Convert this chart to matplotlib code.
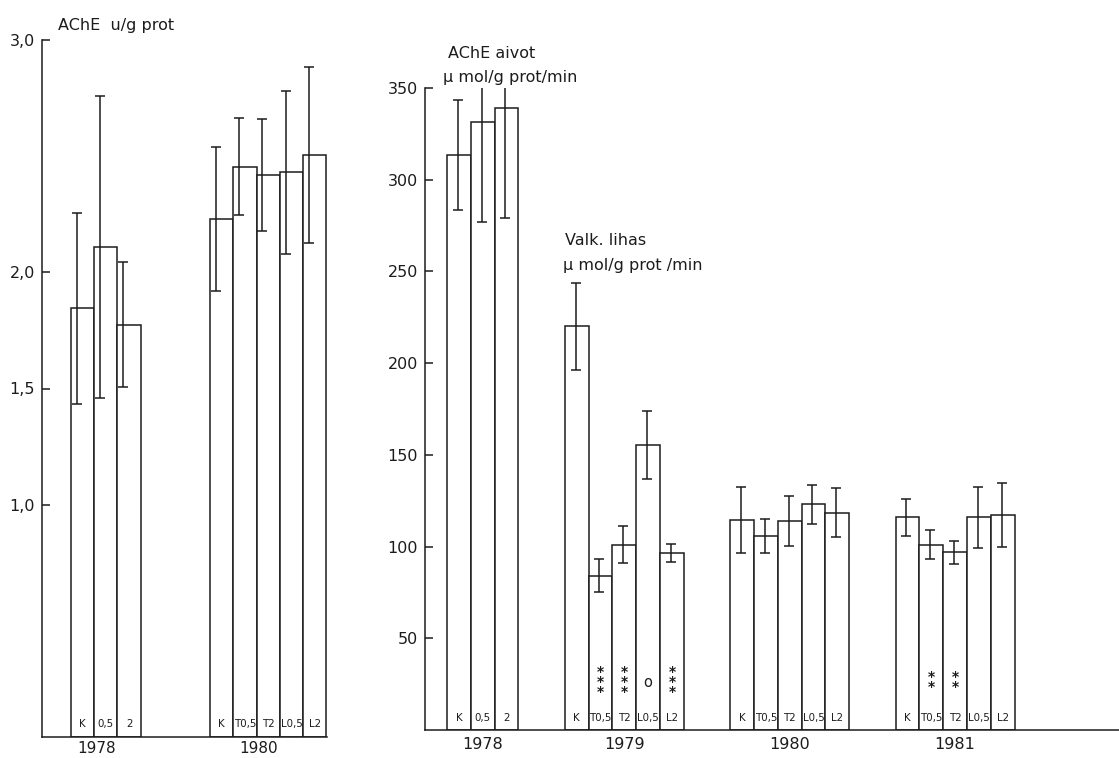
import numpy as np
import matplotlib.pyplot as plt

# AChE activity, left panel (u/g prot)
left_years = ["1978", "1980"]
left_labels = [["K", "0,5", "2"], ["K", "T0,5", "T2", "L0,5", "L2"]]
left_means = [[1.845, 2.11, 1.775], [2.23, 2.455, 2.42, 2.43, 2.505]]
left_errs = [[0.41, 0.65, 0.27], [0.31, 0.21, 0.24, 0.35, 0.38]]

# AChE brain (1978) and white muscle (1979-1981), umol/g prot/min
right_years = ["1978", "1979", "1980", "1981"]
right_labels = [["K", "0,5", "2"],
                ["K", "T0,5", "T2", "L0,5", "L2"],
                ["K", "T0,5", "T2", "L0,5", "L2"],
                ["K", "T0,5", "T2", "L0,5", "L2"]]
right_means = [[313.5, 331.5, 339],
               [220, 84, 101, 155.5, 96.5],
               [114.5, 106, 114, 123, 118.5],
               [116, 101, 97, 116, 117]]
right_errs = [[30, 54.5, 60],
              [23.5, 9, 10, 18.5, 5],
              [18, 9.3, 13.6, 10.6, 13.5],
              [10, 8, 6.3, 16.6, 17.4]]
right_sig = [["", "", ""],
             ["", "*\n*\n*", "*\n*\n*", "o", "*\n*\n*"],
             ["", "", "", "", ""],
             ["", "*\n*", "*\n*", "", ""]]

ink = "#1c1c1c"
lw = 1.1
plt.rcParams["font.family"] = "DejaVu Sans"

fig = plt.figure(figsize=(11.19, 7.58), dpi=100)
W, H = 1119, 758


def px_axes(x0, x1, y0, y1):
    return fig.add_axes([x0 / W, (H - y1) / H, (x1 - x0) / W, (y1 - y0) / H])


def style(ax, xpad):
    for s in ["top", "right"]:
        ax.spines[s].set_visible(False)
    for s in ["left", "bottom"]:
        ax.spines[s].set_color(ink)
        ax.spines[s].set_linewidth(lw)
    ax.tick_params(axis="y", direction="in", length=6, width=lw, color=ink,
                   pad=5, labelsize=11.5, labelcolor=ink)
    ax.tick_params(axis="x", length=0, pad=xpad, labelsize=11.5, labelcolor=ink)


def draw_groups(ax, starts, labels, means, errs, err_shift, label_y, sig=None, sig_y=0):
    centers = []
    for g, x0 in enumerate(starts):
        xs = x0 + np.arange(len(means[g])) + 0.5
        ax.bar(xs, means[g], width=1.0, facecolor="white", edgecolor=ink, linewidth=lw)
        ax.errorbar(xs + err_shift, means[g], yerr=errs[g], fmt="none", ecolor=ink,
                    elinewidth=lw, capsize=3.6, capthick=lw)
        for i, x in enumerate(xs):
            ax.text(x, label_y, labels[g][i], ha="center", va="center",
                    fontsize=7.4, color=ink)
            if sig is not None and sig[g][i]:
                star = "*" in sig[g][i]
                ax.text(x, sig_y, sig[g][i], ha="center", va="center",
                        fontsize=10 if star else 10.5,
                        fontweight="bold" if star else "normal",
                        linespacing=0.62, color=ink)
        centers.append(xs.mean())
    return centers


# left panel
axl = px_axes(42, 327, 40, 737)
style(axl, 3)
left_starts = [1.24, 1.24 + 3 + 2.97]
c = draw_groups(axl, left_starts, left_labels, left_means, left_errs, -0.25, 0.055)
axl.set_xlim(0, 285 / 23.3)
axl.set_ylim(0, 3.0)
axl.set_yticks([1.0, 1.5, 2.0, 3.0])
axl.set_yticklabels(["1,0", "1,5", "2,0", "3,0"])
axl.set_xticks([x - 0.4 for x in c])
axl.set_xticklabels(left_years, fontsize=11)
axl.text(0.69, 3.045, "AChE  u/g prot", fontsize=11.5, color=ink, clip_on=False)

# right panel
axr = px_axes(425, 1119, 88, 730)
style(axr, 5)
gap = 1.95
right_starts = [0.924]
for g in range(1, len(right_means)):
    right_starts.append(right_starts[-1] + len(right_means[g - 1]) + gap)
c = draw_groups(axr, right_starts, right_labels, right_means, right_errs, -0.05, 6.5,
                sig=right_sig, sig_y=26)
axr.set_xlim(0, 694 / 23.8)
axr.set_ylim(0, 350)
axr.set_yticks(np.arange(50, 351, 50))
axr.set_xticks(c)
axr.set_xticklabels(right_years)
axr.text(0.97, 366.5, "AChE aivot", fontsize=11.5, color=ink, clip_on=False)
axr.text(0.76, 353.5, "μ mol/g prot/min", fontsize=11.5, color=ink, clip_on=False)
axr.text(5.88, 264.5, "Valk. lihas", fontsize=11.5, color=ink, clip_on=False)
axr.text(5.8, 251, "μ mol/g prot /min", fontsize=11.5, color=ink, clip_on=False)

fig.savefig("out.png", dpi=100)
